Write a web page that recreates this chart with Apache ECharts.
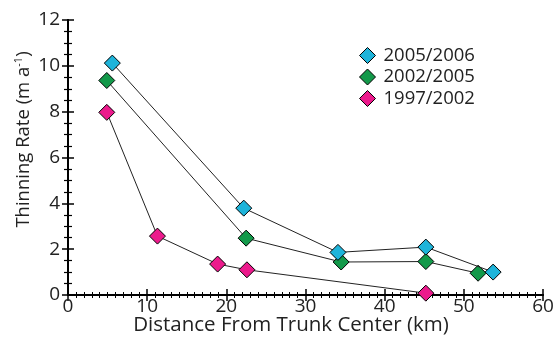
<!DOCTYPE html>
<html><head><meta charset="utf-8">
<script src="https://cdn.jsdelivr.net/npm/echarts@6/dist/echarts.min.js"></script>
<style>html,body{margin:0;padding:0;background:#fff}#c{width:555px;height:337px}</style>
</head><body><div id="c"></div>
<script>
const seriesNames = ['2005/2006', '2002/2005', '1997/2002'];
const s2005_2006 = [[5.6, 10.12], [22.2, 3.79], [34.1, 1.86], [45.2, 2.09], [53.7, 1.0]];
const s2002_2005 = [[4.9, 9.36], [22.5, 2.48], [34.5, 1.44], [45.2, 1.46], [51.8, 0.95]];
const s1997_2002 = [[4.9, 7.97], [11.3, 2.57], [18.9, 1.35], [22.6, 1.1], [45.2, 0.08]];
const colors = ['#1eb4da', '#13994a', '#ec1a8c'];
const xTitle = 'Distance From Trunk Center (km)';
const font = 'Open Sans';

const chart = echarts.init(document.getElementById('c'));
const axisCommon = {
  axisLine: {show: true, lineStyle: {color: '#000', width: 2}},
  splitLine: {show: false},
};
function mkX(show, pos) {
  return Object.assign({}, axisCommon, {
    type: 'value', min: 0, max: 60, interval: 10, position: pos,
    axisTick: {show: true, inside: true, length: 6, lineStyle: {color: '#000', width: 1.5}},
    minorTick: {show: true, splitNumber: 10, length: 3, lineStyle: {color: '#000', width: 1}},
    axisLabel: {show: show, color: '#222', fontSize: 19, fontFamily: font, margin: 2},
    name: show ? xTitle : '', nameLocation: 'middle', nameGap: 20, nameMoveOverlap: false,
    nameTextStyle: {color: '#222', fontSize: 20.5, fontFamily: font, padding: [0, 29, 0, 0]}
  });
}
function mkY(show, pos) {
  return Object.assign({}, axisCommon, {
    type: 'value', min: 0, max: 12, interval: 2, position: pos,
    axisTick: {show: true, inside: true, length: 6, lineStyle: {color: '#000', width: 1.5}},
    minorTick: {show: true, splitNumber: 4, length: 4, lineStyle: {color: '#000', width: 1.2}},
    axisLabel: {show: show, color: '#222', fontSize: 19, fontFamily: font, margin: 8},
    name: show ? 'Thinning Rate (m a{sup|-1})' : '', nameLocation: 'middle', nameGap: 34, nameRotate: 90,
    nameMoveOverlap: false,
    nameTextStyle: {color: '#222', fontSize: 18.5, fontFamily: font, padding: [0, 0, 0, 36],
      rich: {sup: {fontSize: 11, verticalAlign: 'top', padding: [0, 0, 10, 0], color: '#222', fontFamily: font}}}
  });
}
const datasets = [s2005_2006, s2002_2005, s1997_2002];
chart.setOption({
  animation: false,
  backgroundColor: '#fff',
  grid: {left: 68, right: 12, top: 20, bottom: 42, outerBoundsMode: 'none', containLabel: false},
  legend: {
    orient: 'vertical', left: 354, top: 41, itemGap: 2.5, itemWidth: 16, itemHeight: 16,
    icon: 'diamond',
    textStyle: {color: '#222', fontSize: 18.5, fontFamily: font, padding: [0, 0, 0, 3]},
    data: seriesNames.map((n, i) => ({name: n, itemStyle: {color: colors[i], borderColor: '#000', borderWidth: 1}}))
  },
  xAxis: [mkX(true, 'bottom'), mkX(false, 'top')],
  yAxis: [mkY(true, 'left'), mkY(false, 'right')],
  series: datasets.map((d, i) => ({
    name: seriesNames[i], type: 'line', data: d, z: 3 - i,
    symbol: 'diamond', symbolSize: 16,
    lineStyle: {color: '#222', width: 1},
    itemStyle: {color: colors[i], borderColor: '#000', borderWidth: 1}
  }))
});
</script></body></html>
